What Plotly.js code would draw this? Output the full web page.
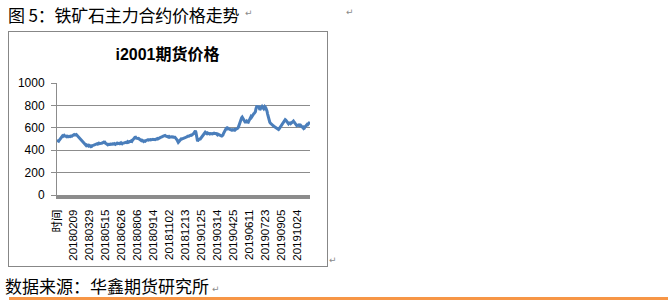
<!DOCTYPE html>
<html>
<head>
<meta charset="utf-8">
<script src="https://cdn.plot.ly/plotly-3.0.1.min.js"></script>
<style>
  html, body { margin: 0; padding: 0; background: #fff; width: 668px; height: 302px; overflow: hidden; }
  #chart { position: absolute; left: 0; top: 0; width: 668px; height: 302px; }
  .txt { position: absolute; font-family: "Noto Sans CJK SC", sans-serif; font-size: 17px; line-height: 17px; color: #000; white-space: nowrap; }
  .ret { position: absolute; font-family: "DejaVu Sans", sans-serif; font-size: 9px; line-height: 9px; color: #8a8a8a; }
  #frame { position: absolute; left: 8px; top: 31px; width: 320px; height: 236px; box-sizing: border-box; border: 1px solid #878787; }
  #orange { position: absolute; left: 9px; top: 297px; width: 659px; height: 3px; background: #F79646; }
</style>
</head>
<body>
<div id="chart"></div>
<div id="frame"></div>
<div class="txt" style="left:8px; top:6px; letter-spacing:-0.2px;">图 5：铁矿石主力合约价格走势</div>
<div class="ret" style="left:245px; top:9px;">↵</div>
<div class="ret" style="left:346px; top:8px;">↵</div>
<div class="ret" style="left:329px; top:256px;">↵</div>
<div class="txt" style="left:5px; top:277px;">数据来源：华鑫期货研究所</div>
<div class="ret" style="left:212px; top:285px;">↵</div>
<div id="orange"></div>
<script>
const chartTitle = "i2001期货价格";
const tickLabels = ["时间","20180209","20180329","20180515","20180626","20180806","20180914","20181102","20181213","20190125","20190314","20190425","20190611","20190723","20190905","20191024"];
const labelEvery = 29;
const yTicks = [0, 200, 400, 600, 800, 1000];
const prices = [
490,486,482,480,488,496,505,512,520,525,
528,524,530,533,528,530,526,522,525,520,
518,520,524,519,522,526,523,525,530,534,
537,540,536,542,538,540,534,530,528,525,
518,512,506,500,495,490,482,474,466,460,
455,450,446,442,447,443,440,438,444,441,
436,433,438,435,440,444,441,446,448,450,
454,452,456,458,455,460,463,459,462,465,
461,462,466,470,474,472,468,470,462,456,
452,450,448,453,450,447,451,455,452,450,
453,457,454,455,459,455,452,456,460,463,
459,460,464,461,458,462,466,460,457,462,
466,463,465,469,466,470,468,472,476,470,
470,474,478,476,480,484,480,488,495,502,
508,512,510,514,508,505,509,504,505,500,
496,492,490,486,490,484,480,478,483,480,
480,485,488,486,490,494,490,493,497,495,
492,495,498,494,497,495,500,496,495,499,
502,500,504,500,505,510,508,512,514,515,
515,520,524,528,530,534,532,528,524,520,
524,520,518,522,516,520,524,520,518,522,
520,516,518,515,515,510,505,500,490,480,
470,476,485,490,494,500,498,500,504,502,
506,510,508,512,515,518,520,525,522,525,
528,532,530,535,533,536,540,545,550,558,
565,572,560,520,485,480,490,495,492,500,
500,508,515,522,530,536,540,548,555,560,
556,552,548,554,550,546,550,544,548,545,
542,546,545,550,548,552,550,546,550,548,
542,538,544,540,536,540,534,530,528,526,
530,534,548,560,572,580,588,595,598,592,
596,592,590,586,590,588,582,578,584,580,
576,580,584,580,585,588,584,590,596,604,
620,640,660,668,675,690,696,688,680,670,
662,650,645,655,660,652,648,650,660,668,
680,690,700,694,705,712,718,725,730,736,
745,770,790,798,780,788,795,775,760,768,
780,786,790,782,775,770,780,790,785,775,
765,748,725,700,678,662,650,642,636,630,
626,622,618,615,612,608,605,600,596,592,
588,585,584,590,598,606,612,620,628,635,
640,650,658,665,672,668,660,652,645,640,
636,642,648,644,638,640,645,650,655,660,
652,645,638,630,625,620,624,618,622,626,
620,618,622,616,612,608,602,596,604,600,
608,615,622,628,632,628,635,640,645,652
];

const xIdx = prices.map((_, i) => i);
const tickVals = tickLabels.map((_, k) => k * labelEvery);

const trace = {
  x: xIdx, y: prices, type: 'scatter', mode: 'lines',
  line: { color: '#4A7EBB', width: 3 },
  hoverinfo: 'skip'
};

const layout = {
  width: 668, height: 302,
  margin: { l: 57, r: 358, t: 83, b: 107, pad: 0 },
  paper_bgcolor: 'rgba(0,0,0,0)', plot_bgcolor: 'rgba(0,0,0,0)',
  showlegend: false,
  title: {
    text: '<b>' + chartTitle + '</b>',
    font: { family: 'Liberation Sans, Noto Sans CJK SC, sans-serif', size: 16, color: '#000' },
    xref: 'container', yref: 'container', x: 167.5 / 668, xanchor: 'center',
    y: 1 - 54 / 302, yanchor: 'middle'
  },
  xaxis: {
    range: [0, prices.length - 1],
    tickmode: 'array', tickvals: tickVals, ticktext: tickLabels,
    tickangle: -90, ticks: '', showgrid: false, zeroline: false,
    showline: true, linecolor: '#8c8c8c', linewidth: 4,
    tickfont: { family: 'Liberation Sans, Noto Sans CJK SC, sans-serif', size: 11.5, color: '#000' },
    ticklabelstandoff: 6, fixedrange: true
  },
  yaxis: {
    range: [0, 1000], tickmode: 'array', tickvals: yTicks,
    ticks: 'outside', ticklen: 5, tickcolor: '#8c8c8c', tickwidth: 1,
    showline: true, linecolor: '#8c8c8c', linewidth: 1,
    showgrid: true, gridcolor: '#8c8c8c', gridwidth: 1, zeroline: false,
    tickfont: { family: 'Liberation Sans, sans-serif', size: 12, color: '#000' },
    ticklabelstandoff: 4, fixedrange: true
  }
};

Plotly.newPlot('chart', [trace], layout, { staticPlot: true, displayModeBar: false });
</script>
</body>
</html>
